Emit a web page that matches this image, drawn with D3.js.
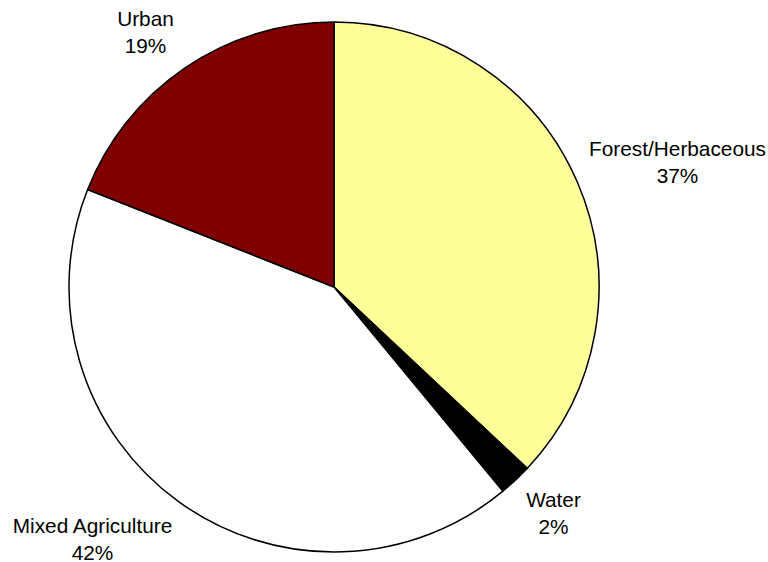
<!DOCTYPE html>
<html>
<head>
<meta charset="utf-8">
<script src="https://cdn.jsdelivr.net/npm/d3@7"></script>
<style>
  body { margin: 0; background: #fff; }
  text { font-family: "Liberation Sans", Arial, sans-serif; font-size: 20.8px; fill: #000; }
</style>
</head>
<body>
<div id="chart"></div>
<script>
// slice order clockwise from 12 o'clock
var categories = ["Forest/Herbaceous", "Water", "Mixed Agriculture", "Urban"];
var values = [37, 2, 42, 19];
var colors = ["#FFFF99", "#000000", "#FFFFFF", "#800000"];

var width = 768, height = 562;
var cx = 334, cy = 287, radius = 265;

// where each data label sits (center x, first baseline), relative to pie center
var labelAt = {
  "Forest/Herbaceous": [343.5, -131],
  "Water": [219.5, 220],
  "Mixed Agriculture": [-241.5, 246],
  "Urban": [-188.5, -261]
};

var svg = d3.select("#chart").append("svg")
  .attr("width", width)
  .attr("height", height);

var g = svg.append("g")
  .attr("transform", "translate(" + cx + "," + cy + ")");

var data = categories.map(function (c, i) {
  return { name: c, value: values[i], color: colors[i] };
});

var pie = d3.pie()
  .sort(null)
  .value(function (d) { return d.value; });

var arc = d3.arc()
  .innerRadius(0)
  .outerRadius(radius);

var arcs = pie(data);
var total = d3.sum(values);

g.selectAll(".slice")
  .data(arcs)
  .enter().append("path")
  .attr("class", "slice")
  .attr("d", arc)
  .attr("fill", function (d) { return d.data.color; })
  .attr("stroke", "#000")
  .attr("stroke-width", 1.5)
  .attr("stroke-linejoin", "round");

var labels = g.selectAll(".label")
  .data(arcs)
  .enter().append("text")
  .attr("class", "label")
  .attr("text-anchor", "middle")
  .attr("transform", function (d) {
    var p = labelAt[d.data.name];
    return "translate(" + p[0] + "," + p[1] + ")";
  });

labels.append("tspan")
  .attr("x", 0)
  .attr("y", 0)
  .text(function (d) { return d.data.name; });
labels.append("tspan")
  .attr("x", 0)
  .attr("y", 27)
  .text(function (d) { return Math.round(d.data.value / total * 100) + "%"; });
</script>
</body>
</html>
